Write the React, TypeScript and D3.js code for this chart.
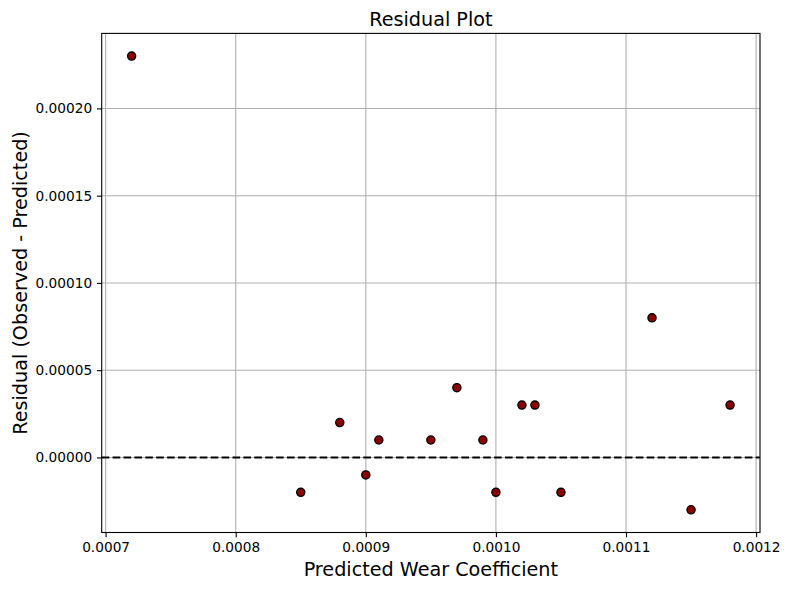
import React, { useEffect, useRef } from "react";
import * as d3 from "d3";

// predicted wear coefficient vs residual
const predicted = [
  0.00072, 0.00085, 0.00088, 0.0009, 0.00091, 0.00095, 0.00097, 0.00099,
  0.001, 0.00102, 0.00103, 0.00105, 0.00112, 0.00115, 0.00118,
];
const residuals = [
  0.00023, -0.00002, 0.00002, -0.00001, 0.00001, 0.00001, 0.00004, 0.00001,
  -0.00002, 0.00003, 0.00003, -0.00002, 0.00008, -0.00003, 0.00003,
];
const xTicks = [0.0007, 0.0008, 0.0009, 0.001, 0.0011, 0.0012];
const yTicks = [0, 0.00005, 0.0001, 0.00015, 0.0002];

const W = 789;
const H = 590;
const margin = { top: 33.4, right: 29, bottom: 57.5, left: 101.7 };

function ResidualPlot() {
  const svgRef = useRef<SVGSVGElement>(null);

  useEffect(() => {
    const svg = d3.select(svgRef.current);
    const innerW = W - margin.left - margin.right;
    const innerH = H - margin.top - margin.bottom;

    // 5% margins like matplotlib
    const [x0, x1] = d3.extent(predicted) as [number, number];
    const [y0, y1] = d3.extent(residuals) as [number, number];
    const dx = (x1 - x0) * 0.05;
    const dy = (y1 - y0) * 0.05;

    const xScale = d3.scaleLinear().domain([x0 - dx, x1 + dx]).range([0, innerW]);
    const yScale = d3.scaleLinear().domain([y0 - dy, y1 + dy]).range([innerH, 0]);

    const g = svg.select<SVGGElement>(".plot");
    g.attr("transform", `translate(${margin.left},${margin.top})`);

    // grid
    g.select(".grid")
      .selectAll("line.gx")
      .data(xTicks)
      .join("line")
      .attr("class", "gx")
      .attr("x1", (d) => xScale(d))
      .attr("x2", (d) => xScale(d))
      .attr("y1", 0)
      .attr("y2", innerH)
      .attr("stroke", "#b0b0b0")
      .attr("stroke-width", 1.1);
    g.select(".grid")
      .selectAll("line.gy")
      .data(yTicks)
      .join("line")
      .attr("class", "gy")
      .attr("x1", 0)
      .attr("x2", innerW)
      .attr("y1", (d) => yScale(d))
      .attr("y2", (d) => yScale(d))
      .attr("stroke", "#b0b0b0")
      .attr("stroke-width", 1.1);

    // zero line
    g.select(".zero")
      .attr("x1", 0)
      .attr("x2", innerW)
      .attr("y1", yScale(0))
      .attr("y2", yScale(0))
      .attr("stroke", "black")
      .attr("stroke-width", 2)
      .attr("stroke-dasharray", "7.6,3.3");

    // points
    g.select(".points")
      .selectAll("circle")
      .data(predicted.map((p, i) => ({ p, r: residuals[i] })))
      .join("circle")
      .attr("cx", (d) => xScale(d.p))
      .attr("cy", (d) => yScale(d.r))
      .attr("r", 4.1)
      .attr("fill", "#8b0000")
      .attr("stroke", "black")
      .attr("stroke-width", 1.3);

    // axes
    const xAxis = d3
      .axisBottom(xScale)
      .tickValues(xTicks)
      .tickFormat(d3.format(".4f"))
      .tickSize(4.8)
      .tickPadding(4.8);
    g.select<SVGGElement>(".x-axis")
      .attr("transform", `translate(0,${innerH})`)
      .call(xAxis);

    const yAxis = d3
      .axisLeft(yScale)
      .tickValues(yTicks)
      .tickFormat(d3.format(".5f"))
      .tickSize(4.8)
      .tickPadding(4.8);
    g.select<SVGGElement>(".y-axis").call(yAxis);

    g.selectAll(".x-axis, .y-axis")
      .attr("font-family", "DejaVu Sans, sans-serif")
      .attr("font-size", 13.7);
    g.selectAll(".x-axis .domain, .y-axis .domain").remove();
    g.selectAll(".tick line").attr("stroke", "black").attr("stroke-width", 1.1);
    g.selectAll(".tick text").attr("fill", "black");

    // frame
    g.select(".frame")
      .attr("x", 0)
      .attr("y", 0)
      .attr("width", innerW)
      .attr("height", innerH)
      .attr("fill", "none")
      .attr("stroke", "black")
      .attr("stroke-width", 1.1);
  }, []);

  const innerW = W - margin.left - margin.right;
  const innerH = H - margin.top - margin.bottom;

  return (
    <svg
      ref={svgRef}
      width={W}
      height={H}
      style={{ position: "absolute", left: 0, top: 0, background: "white" }}
      fontFamily="DejaVu Sans, sans-serif"
    >
      <g className="plot">
        <g className="grid" />
        <line className="zero" />
        <g className="points" />
        <rect className="frame" />
        <g className="x-axis" />
        <g className="y-axis" />
      </g>
      <text x={margin.left + innerW / 2} y={25.5} textAnchor="middle" fontSize={19.2}>
        Residual Plot
      </text>
      <text x={margin.left + innerW / 2} y={576} textAnchor="middle" fontSize={19.2}>
        Predicted Wear Coefficient
      </text>
      <text
        transform={`translate(27,${margin.top + innerH / 2}) rotate(-90)`}
        textAnchor="middle"
        fontSize={19.2}
      >
        Residual (Observed - Predicted)
      </text>
    </svg>
  );
}

export default function App() {
  return <ResidualPlot />;
}
